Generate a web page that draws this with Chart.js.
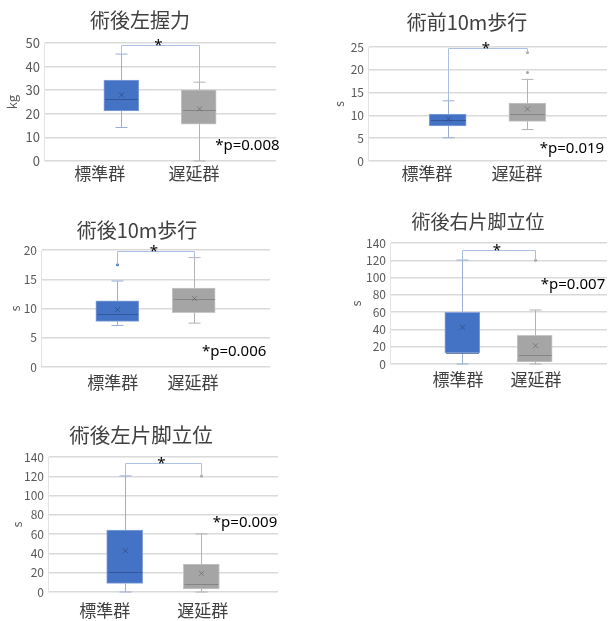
<!DOCTYPE html>
<html>
<head>
<meta charset="utf-8">
<script src="https://cdn.jsdelivr.net/npm/chart.js@4.4.1/dist/chart.umd.min.js"></script>
<style>
    html, body { margin: 0; padding: 0; background: #fff; }
    #wrap { position: relative; width: 608px; height: 621px; overflow: hidden; }
    #wrap canvas { position: absolute; }
</style>
</head>
<body>
<div id="wrap">
    <canvas id="c0"></canvas>
    <canvas id="c1"></canvas>
    <canvas id="c2"></canvas>
    <canvas id="c3"></canvas>
    <canvas id="c4"></canvas>
</div>
<script>
'use strict';

// ---- data, one entry per panel ----
var titles   = ['術後左握力', '術前10m歩行', '術後10m歩行', '術後右片脚立位', '術後左片脚立位'];
var groups   = ['標準群', '遅延群'];
var units    = ['kg', 's', 's', 's', 's'];
var yMax     = [50, 25, 20, 140, 140];
var yStep    = [10, 5, 5, 20, 20];
var lows     = [[14.2, 0], [5.1, 6.9], [7.1, 7.5], [0, 0], [0, 0]];
var q1s      = [[21.2, 15.6], [7.7, 8.7], [7.8, 9.3], [12.7, 2.3], [8.9, 3.1]];
var medians  = [[26.3, 21.7], [9.0, 10.4], [9.0, 11.7], [12.7, 10.4], [20.6, 8.3]];
var q3s      = [[34.3, 30.2], [10.3, 12.7], [11.3, 13.5], [59.8, 33.2], [64.3, 28.9]];
var highs    = [[45.3, 33.4], [13.2, 17.9], [14.7, 18.7], [120.3, 62.5], [120.4, 60.2]];
var means    = [[28, 22.1], [9.2, 11.4], [9.8, 11.7], [42.4, 21.2], [42.7, 19.3]];
var outliers = [[[], []], [[], [19.4, 23.8]], [[17.5], []], [[], [120]], [[], [120.4]]];
var bracketY = [49.3, 24.85, 19.8, 131.9, 133.8];
var pValues  = ['0.008', '0.019', '0.006', '0.007', '0.009'];

// ---- layout (page pixels / axis units) ----
var canvasBox = [[0, 0, 300, 195], [300, 0, 308, 195], [0, 200, 300, 200], [300, 200, 308, 200], [0, 405, 300, 216]];
var plotBox   = [[44, 43, 276, 161], [368, 47, 607, 161], [41, 250, 270, 367], [390, 243, 607, 364], [48, 457, 278, 592]];
var titlePos  = [[140, 20], [467, 22], [137, 230], [478, 222], [141, 435]];
var titleSize = [20, 20, 20, 19, 20.5];
var unitX     = [12.5, 339, 15, 356, 17];
var labelX    = [[0.72, 1.94], [0.74, 1.87], [0.94, 1.99], [0.94, 2.02], [0.74, 2.02]];
var labelPad  = [2, 2, 5, 5, 8];
var pPos      = [[2.63, 6.4], [2.56, 2.6], [2.53, 2.56], [2.53, 91.4], [2.57, 71.6]];
var boxWidth  = [35, 37, 43, 35, 36];
var tickSize  = [13, 12, 12, 12, 12];

var FONT = '"Noto Sans CJK JP", "Noto Sans", sans-serif';
var LATIN = '"Noto Sans", "DejaVu Sans", sans-serif';
var fills    = ['#4472c4', '#a5a5a5'];
var edges    = ['#86a2d8', '#c6c6c6'];
var whiskers = ['#9aaed6', '#b2b2b2'];
var medianC  = ['rgba(40,70,130,0.65)', 'rgba(110,110,110,0.6)'];
var meanC    = ['rgba(40,60,110,0.55)', 'rgba(90,90,90,0.55)'];

Chart.defaults.font.family = FONT;

function seg(ctx, x1, y1, x2, y2) {
    ctx.beginPath();
    ctx.moveTo(x1, y1);
    ctx.lineTo(x2, y2);
    ctx.stroke();
}

var boxExtras = {
    id: 'boxExtras',
    afterDatasetsDraw: function (chart, args, opts) {
        var k = opts.panel, ctx = chart.ctx;
        var xs = chart.scales.x, ys = chart.scales.y;
        var tops = [];
        ctx.save();
        ctx.lineWidth = 1;
        for (var g = 0; g < 2; g++) {
            var x = Math.round(xs.getPixelForValue(g + 1)) + 0.5;
            var yHi = ys.getPixelForValue(highs[k][g]);
            var yLo = ys.getPixelForValue(lows[k][g]);
            ctx.strokeStyle = whiskers[g];
            seg(ctx, x, ys.getPixelForValue(q3s[k][g]), x, yHi);
            seg(ctx, x - 6, yHi, x + 6, yHi);
            if (lows[k][g] < q1s[k][g]) {
                seg(ctx, x, ys.getPixelForValue(q1s[k][g]), x, yLo);
                seg(ctx, x - 6, yLo, x + 6, yLo);
            }
            // median
            var half = boxWidth[k] / 2 - 1;
            var ym = Math.round(ys.getPixelForValue(medians[k][g])) + 0.5;
            ctx.strokeStyle = medianC[g];
            seg(ctx, x - half, ym, x + half, ym);
            // mean marker
            var ya = ys.getPixelForValue(means[k][g]);
            ctx.strokeStyle = meanC[g];
            seg(ctx, x - 2.5, ya - 2.5, x + 2.5, ya + 2.5);
            seg(ctx, x - 2.5, ya + 2.5, x + 2.5, ya - 2.5);
            // outliers
            ctx.fillStyle = fills[g];
            var top = highs[k][g];
            outliers[k][g].forEach(function (v) {
                ctx.beginPath();
                ctx.arc(x, ys.getPixelForValue(v), 1.5, 0, Math.PI * 2);
                ctx.fill();
                if (v > top) { top = v; }
            });
            tops.push(top);
        }
        // significance bracket
        var xa = Math.round(xs.getPixelForValue(1)) + 0.5;
        var xb = Math.round(xs.getPixelForValue(2)) + 0.5;
        var yb = Math.round(ys.getPixelForValue(bracketY[k])) + 0.5;
        ctx.strokeStyle = '#adc0e4';
        ctx.beginPath();
        ctx.moveTo(xa, ys.getPixelForValue(tops[0]));
        ctx.lineTo(xa, yb);
        ctx.lineTo(xb, yb);
        ctx.lineTo(xb, ys.getPixelForValue(tops[1]));
        ctx.stroke();
        ctx.fillStyle = '#000';
        ctx.textAlign = 'center';
        ctx.textBaseline = 'alphabetic';
        ctx.font = '15px ' + LATIN;
        ctx.fillText('*', (xa + xb) / 2 - 2, yb + 4);
        // p value
        ctx.font = '15px ' + LATIN;
        ctx.textBaseline = 'middle';
        ctx.fillText('*p=' + pValues[k], xs.getPixelForValue(pPos[k][0]), ys.getPixelForValue(pPos[k][1]));
        ctx.restore();
    },
    afterDraw: function (chart, args, opts) {
        var k = opts.panel, ctx = chart.ctx;
        ctx.save();
        ctx.fillStyle = '#404040';
        ctx.font = titleSize[k] + 'px ' + FONT;
        ctx.textAlign = 'center';
        ctx.textBaseline = 'middle';
        ctx.fillText(titles[k], titlePos[k][0] - canvasBox[k][0], titlePos[k][1] - canvasBox[k][1]);
        ctx.restore();
    }
};

function makePanel(k) {
    var cb = canvasBox[k], pb = plotBox[k];
    var el = document.getElementById('c' + k);
    el.width = cb[2];
    el.height = cb[3];
    el.style.left = cb[0] + 'px';
    el.style.top = cb[1] + 'px';

    return new Chart(el, {
        type: 'bar',
        data: {
            datasets: [{
                data: [
                    { x: 1, y: [q1s[k][0], q3s[k][0]] },
                    { x: 2, y: [q1s[k][1], q3s[k][1]] }
                ],
                backgroundColor: fills,
                borderColor: edges,
                borderWidth: 1,
                borderSkipped: false,
                barThickness: boxWidth[k]
            }]
        },
        options: {
            responsive: false,
            animation: false,
            layout: {
                padding: { left: 0, top: pb[1] - cb[1], right: cb[0] + cb[2] - pb[2], bottom: 0 }
            },
            plugins: {
                legend: { display: false },
                tooltip: { enabled: false },
                boxExtras: { panel: k }
            },
            scales: {
                x: {
                    type: 'linear',
                    min: 0,
                    max: 3,
                    offset: false,
                    grid: { display: false, drawTicks: false },
                    border: { display: false },
                    afterBuildTicks: function (s) {
                        s.ticks = labelX[k].map(function (v) { return { value: v }; });
                    },
                    afterFit: function (s) { s.height = cb[1] + cb[3] - pb[3]; },
                    ticks: {
                        autoSkip: false,
                        maxRotation: 0,
                        padding: labelPad[k],
                        color: '#404040',
                        font: { size: 17 },
                        callback: function (v, i) { return groups[i]; }
                    }
                },
                y: {
                    min: 0,
                    max: yMax[k],
                    afterFit: function (s) { s.width = pb[0] - cb[0]; },
                    grid: { color: '#dadada', lineWidth: 1.5, drawTicks: false },
                    border: { display: true, color: '#e3e3e3', width: 1 },
                    ticks: {
                        stepSize: yStep[k],
                        autoSkip: false,
                        padding: 4,
                        color: '#595959',
                        font: { size: tickSize[k] }
                    },
                    title: {
                        display: true,
                        text: units[k],
                        color: '#595959',
                        font: { size: 13 },
                        padding: { top: unitX[k] - cb[0] - 7.8, bottom: 0 }
                    }
                }
            }
        },
        plugins: [boxExtras]
    });
}

for (var k = 0; k < titles.length; k++) {
    makePanel(k);
}
</script>
</body>
</html>
